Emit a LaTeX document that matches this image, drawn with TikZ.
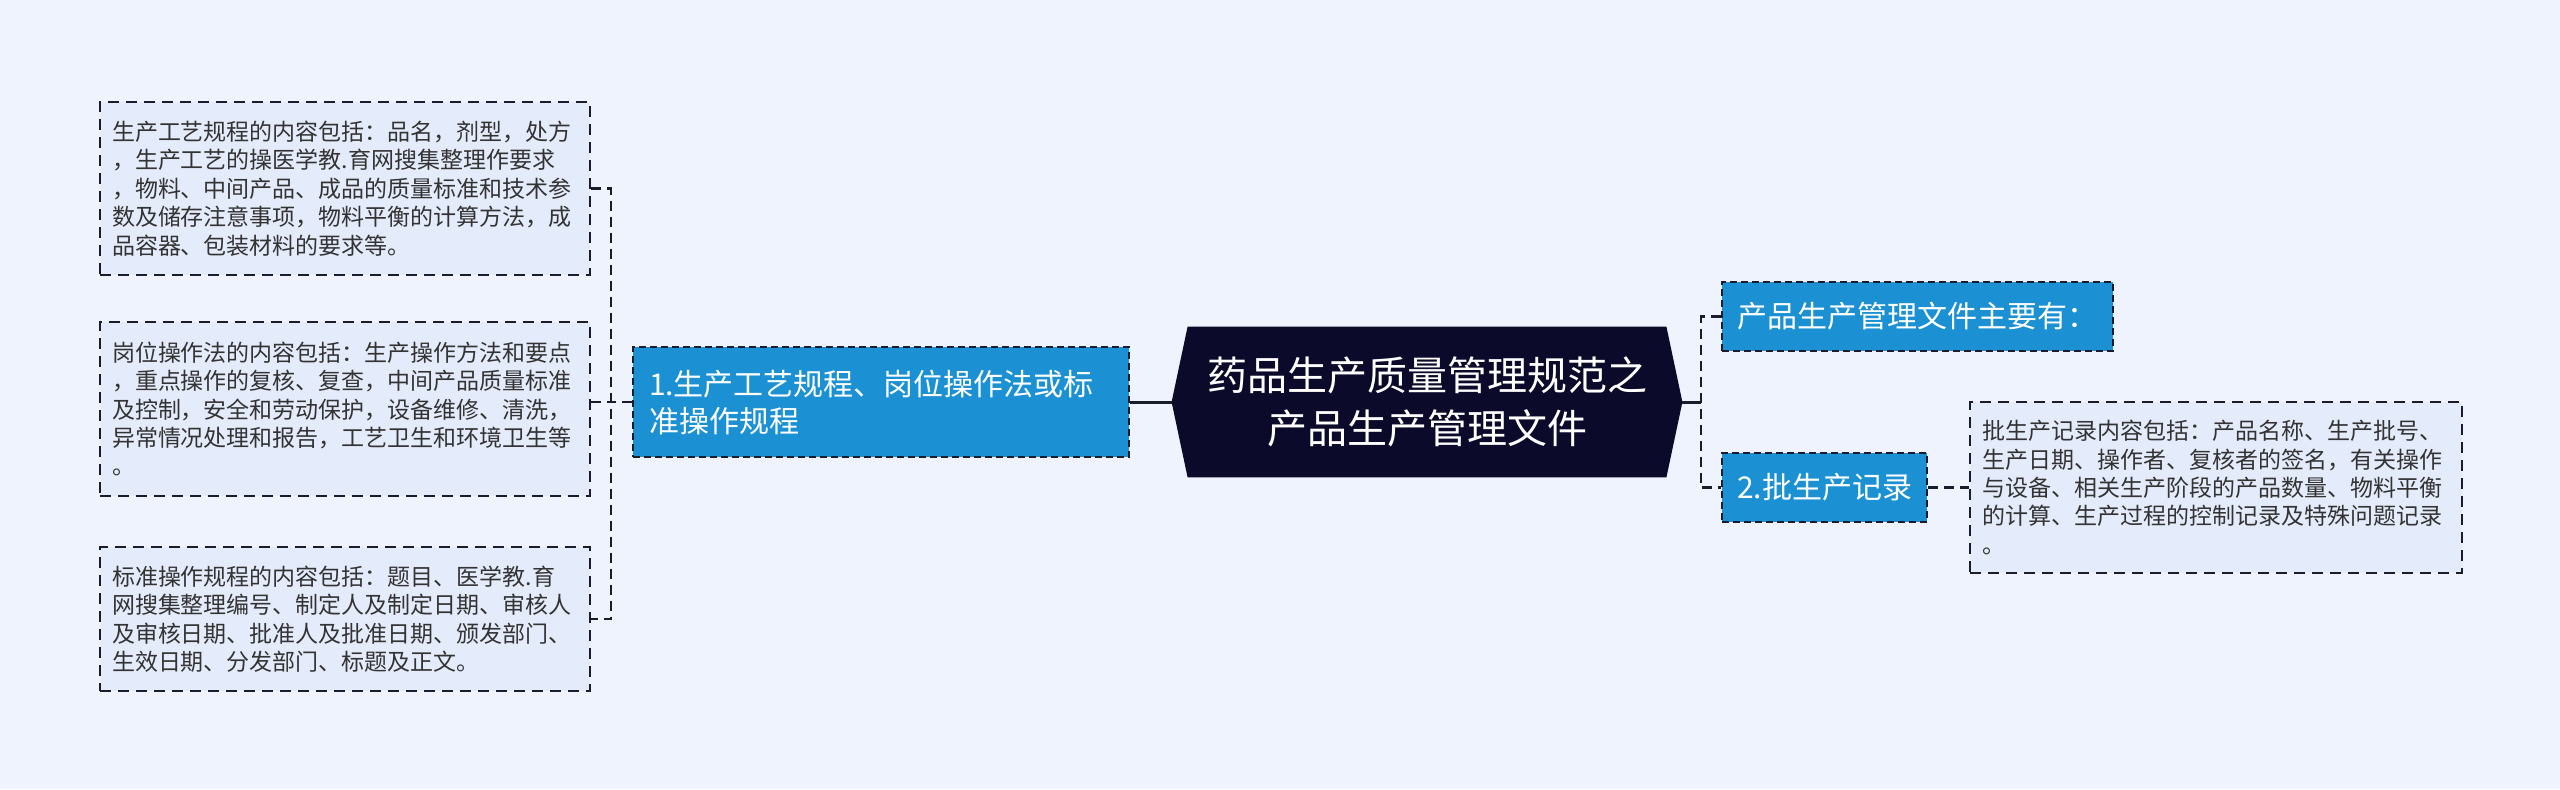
\documentclass[tikz,border=0pt]{standalone}
\usepackage{fontspec}
\setmainfont{Noto Sans CJK SC}
\usetikzlibrary{backgrounds}
\definecolor{bgc}{HTML}{EEF3FE}
\definecolor{leaffill}{HTML}{E4EBFA}
\definecolor{bluefill}{HTML}{1B91D3}
\definecolor{navy}{HTML}{0C0A2B}
\definecolor{lineclr}{HTML}{1A1C2E}
\definecolor{txt}{HTML}{333333}
\tikzset{
  leafbox/.style={draw=lineclr, line width=1pt, dash pattern=on 5.5pt off 3.5pt, fill=leaffill, text=txt,
    font=\fontsize{11.5}{14.2}\selectfont, align=left, inner xsep=6pt, inner ysep=0pt, rectangle, anchor=center},
  bluebox/.style={draw=lineclr, line width=1pt, dash pattern=on 3.5pt off 2pt, fill=bluefill, text=white,
    font=\fontsize{15}{18.5}\selectfont, align=left, inner xsep=7.5pt, inner ysep=0pt, rectangle, anchor=center},
  dashc/.style={draw=lineclr, line width=1.4pt, dash pattern=on 5pt off 3pt},
  solidc/.style={draw=lineclr, line width=1.5pt},
}
\begin{document}
\begin{tikzpicture}[x=0.5pt,y=-0.5pt]
\useasboundingbox (0,0) rectangle (2560,789);

% left leaves
\node[leafbox, text width=233pt, minimum height=86.5pt] (leaf1) at (345,188.5) {生产工艺规程的内容包括：品名，剂型，处方\\，生产工艺的操医学教.育网搜集整理作要求\\，物料、中间产品、成品的质量标准和技术参\\数及储存注意事项，物料平衡的计算方法，成\\品容器、包装材料的要求等。};
\node[leafbox, text width=233pt, minimum height=87pt] (leaf2) at (345,409) {岗位操作法的内容包括：生产操作方法和要点\\，重点操作的复核、复查，中间产品质量标准\\及控制，安全和劳动保护，设备维修、清洗，\\异常情况处理和报告，工艺卫生和环境卫生等\\。};
\node[leafbox, text width=233pt, minimum height=72pt] (leaf3) at (345,619) {标准操作规程的内容包括：题目、医学教.育\\网搜集整理编号、制定人及制定日期、审核人\\及审核日期、批准人及批准日期、颁发部门、\\生效日期、分发部门、标题及正文。};

% mid node
\node[bluebox, inner xsep=8pt, text width=232pt, minimum height=55pt] (mid) at (881,402) {1.生产工艺规程、岗位操作法或标\\准操作规程};

% center node
\node[text=white, font=\fontsize{20}{26.5}\selectfont, align=center, minimum width=255pt, minimum height=75pt, inner sep=0pt] (center) at (1427,402) {药品生产质量管理规范之\\产品生产管理文件};
\begin{scope}[on background layer]
\fill[bgc] (0,0) rectangle (2560,789);
\fill[navy] (center.west) -- ([xshift=8pt]center.north west) -- ([xshift=-8pt]center.north east) -- (center.east) -- ([xshift=-8pt]center.south east) -- ([xshift=8pt]center.south west) -- cycle;
\end{scope}

% right nodes
\node[bluebox, text width=180.5pt, minimum height=34.5pt] (boxA) at (1917.5,316.5) {产品生产管理文件主要有：};
\node[bluebox, text width=87.5pt, minimum height=34.5pt] (boxB) at (1824.5,487.5) {2.批生产记录};
\node[leafbox, text width=234pt, minimum height=85.5pt] (leafR) at (2216,487.5) {批生产记录内容包括：产品名称、生产批号、\\生产日期、操作者、复核者的签名，有关操作\\与设备、相关生产阶段的产品数量、物料平衡\\的计算、生产过程的控制记录及特殊问题记录\\。};

% connectors
\coordinate (lj) at (611,402);
\coordinate (rj) at (1701,402);
\draw[solidc] (mid.east) -- (center.west);
\draw[dashc] (mid.west) -- (lj);
\draw[dashc] (leaf1.east) -- (leaf1.east -| lj) -- (leaf3.east -| lj) -- (leaf3.east);
\draw[dashc] (leaf2.east |- lj) -- (lj);
\draw[solidc] (center.east) -- (rj);
\draw[dashc] (boxA.west) -- (boxA.west -| rj) -- (boxB.west -| rj) -- (boxB.west);
\draw[dashc] (boxB.east) -- (leafR.west);
\end{tikzpicture}
\end{document}
